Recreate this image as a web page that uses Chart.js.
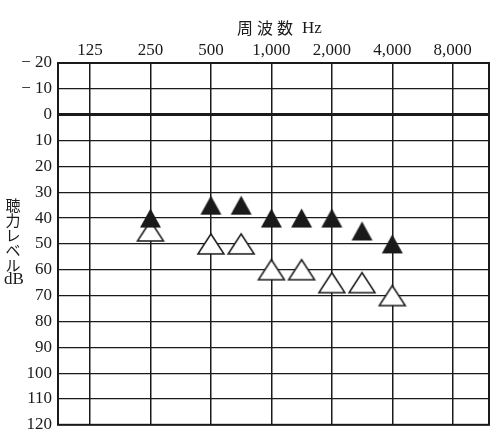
<!DOCTYPE html>
<html>
<head>
<meta charset="utf-8">
<script src="https://cdn.jsdelivr.net/npm/chart.js@4.4.1/dist/chart.umd.min.js"></script>
<style>
  html, body { margin: 0; padding: 0; background: #fff; }
  #wrap { width: 500px; height: 441px; }
</style>
</head>
<body>
<div id="wrap"><canvas id="audiogram"></canvas></div>
<script>
// axis frequencies (one octave per column) and their printed labels
const tickFreqs = [125, 250, 500, 1000, 2000, 4000, 8000];
const tickLabels = ["125", "250", "500", "1,000", "2,000", "4,000", "8,000"];

// measured frequencies and hearing levels (dB)
const testFreqs = [250, 500, 750, 1000, 1500, 2000, 3000, 4000];
const filledLevels = [40, 35, 35, 40, 40, 40, 45, 50];
const openLevels = [45, 50, 50, 60, 60, 65, 65, 70];

const xTitleChars = ["周", "波", "数"];
const xTitleUnit = "Hz";
const yTitleChars = ["聴", "力", "レ", "ベ", "ル"];
const yTitleUnit = "dB";

const INK = "#1a1a1a";
const SERIF = "'Liberation Serif', 'Noto Sans CJK JP', serif";
const CJK = "'Noto Sans CJK JP', sans-serif";

// octave frequencies sit on their column, half-octave ones halfway between
const freqPos = (f) => {
  const i = tickFreqs.indexOf(f);
  if (i >= 0) return i;
  return tickFreqs.findIndex((t) => t > f) - 0.5;
};

// triangle marker, bounding box centred on the point
function makeTriangle(w, h, fill, lineW) {
  const pad = Math.ceil(lineW) + 1;
  const c = document.createElement("canvas");
  c.width = w + pad * 2;
  c.height = h + pad * 2;
  const g = c.getContext("2d");
  g.beginPath();
  g.moveTo(pad + w / 2, pad);
  g.lineTo(pad + w, pad + h);
  g.lineTo(pad, pad + h);
  g.closePath();
  g.fillStyle = fill;
  g.fill();
  if (lineW > 0) {
    g.lineWidth = lineW;
    g.strokeStyle = INK;
    g.stroke();
  }
  return c;
}

const filledTri = makeTriangle(21, 19, INK, 0);
const openTri = makeTriangle(26, 20, "#ffffff", 1.5);

// outer frame and both axis titles
const framePlugin = {
  id: "frame",
  afterDraw(chart) {
    const { ctx, chartArea: a } = chart;
    ctx.save();
    ctx.strokeStyle = INK;
    ctx.lineWidth = 2;
    ctx.strokeRect(a.left, a.top, a.right - a.left, a.bottom - a.top);

    ctx.fillStyle = INK;
    ctx.textBaseline = "middle";

    // 周波数 Hz, letter-spaced above the frequency labels
    ctx.textAlign = "center";
    ctx.font = "16px " + CJK;
    xTitleChars.forEach((t, i) => ctx.fillText(t, 245 + i * 20, 28));
    ctx.textAlign = "left";
    ctx.font = "17px " + SERIF;
    ctx.fillText(xTitleUnit, 302, 29);

    // 聴力レベル dB, one character per line
    ctx.textAlign = "center";
    ctx.font = "15px " + CJK;
    yTitleChars.forEach((t, i) => ctx.fillText(t, 13, 205 + i * 15));
    ctx.font = "17px " + SERIF;
    ctx.fillText(yTitleUnit, 14, 280);
    ctx.restore();
  },
};

const ctx = document.getElementById("audiogram").getContext("2d");

new Chart(ctx, {
  type: "scatter",
  data: {
    datasets: [
      {
        label: "filled",
        data: testFreqs.map((f, i) => ({ x: freqPos(f), y: filledLevels[i] })),
        pointStyle: filledTri,
        pointRadius: 10,
        showLine: false,
      },
      {
        label: "open",
        data: testFreqs.map((f, i) => ({ x: freqPos(f), y: openLevels[i] })),
        pointStyle: openTri,
        pointRadius: 10,
        showLine: false,
      },
    ],
  },
  options: {
    responsive: true,
    maintainAspectRatio: false,
    animation: false,
    events: [],
    layout: { padding: { left: 0, top: 0, right: 11, bottom: 16 } },
    plugins: {
      legend: { display: false },
      tooltip: { enabled: false },
    },
    scales: {
      x: {
        type: "linear",
        position: "top",
        min: -0.53,
        max: 6.6,
        afterBuildTicks(scale) {
          scale.ticks = tickFreqs.map((f, i) => ({ value: i }));
        },
        afterFit(scale) {
          scale.height = 63;
        },
        grid: { color: INK, lineWidth: 1.5, drawTicks: false },
        border: { display: false },
        ticks: {
          color: INK,
          font: { family: SERIF, size: 17 },
          padding: 2,
          maxRotation: 0,
          autoSkip: false,
          callback: (v, i) => tickLabels[i],
        },
      },
      y: {
        type: "linear",
        reverse: true,
        min: -20,
        max: 120,
        afterFit(scale) {
          scale.width = 58;
        },
        grid: {
          color: INK,
          drawTicks: false,
          lineWidth: (c) => (c.tick && c.tick.value === 0 ? 3 : 1.2),
        },
        border: { display: false },
        ticks: {
          stepSize: 10,
          color: INK,
          font: { family: SERIF, size: 17 },
          padding: 6,
          autoSkip: false,
          callback: (v) => (v < 0 ? "\u2212 " + Math.abs(v) : String(v)),
        },
      },
    },
  },
  plugins: [framePlugin],
});
</script>
</body>
</html>
